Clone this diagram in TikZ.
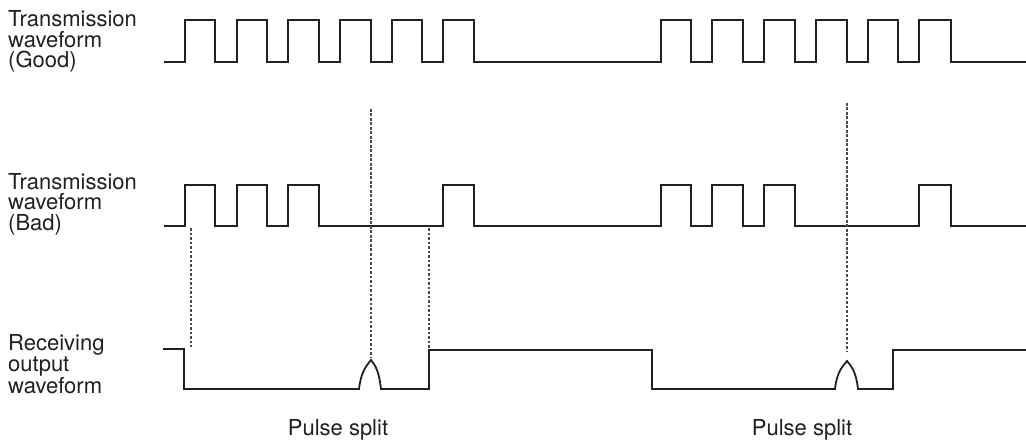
\documentclass[tikz,border=0pt]{standalone}
\usepackage{fontspec}
\setmainfont{TeX Gyre Heros}
\usepackage{tikz}
\usetikzlibrary{positioning,calc}
\definecolor{inkc}{HTML}{231F20}
\definecolor{guidec}{HTML}{4A4A4A}
\tikzset{
  wave/.style={draw=inkc, line width=1.8pt, line join=miter},
  guide/.style={draw=guidec, line width=1.3pt, dash pattern=on 2.8pt off 1.7pt},
  lbl/.style={inner sep=0pt, align=left, text=inkc, font=\fontsize{22}{20.5}\selectfont},
}
\begin{document}
\begin{tikzpicture}[x=1pt, y=-1pt]
  \useasboundingbox (0,0) rectangle (1026,441);
  % signal names
  \node[lbl, anchor=base west] (good) at (8,68) {Transmission\\waveform\\(Good)};
  \node[lbl, anchor=base west] (bad) at (8,230) {Transmission\\waveform\\(Bad)};
  \node[lbl, anchor=base west] (recv) at (8,393) {Receiving\\output\\waveform};
  \node[lbl, anchor=base] (split1) at (338,435) {Pulse split};
  \node[lbl, anchor=base] (split2) at (802,435) {Pulse split};
  % transmitted pulses
  \draw[wave] (164,62) \foreach \a/\b in {185/215,237/267,288/319,340/371,392/422,443/474,661/691,712/743,764/795,816/847,868/898,919/951} { -- (\a,62) -- (\a,20) -- (\b,20) -- (\b,62) } -- (1026,62);
  \draw[wave] (164,226) \foreach \a/\b in {185/215,237/267,288/319,443/474,661/691,712/743,764/795,919/951} { -- (\a,226) -- (\a,185) -- (\b,185) -- (\b,226) } -- (1026,226);
  % received output
  \draw[wave] (163,349) -- (184,349) -- (184,389) -- (359,389)
    .. controls (361,372) and (366,366) .. (371,360)
    .. controls (376,366) and (379,372) .. (381,389)
    -- (429,389) -- (429,350) -- (652,350) -- (652,389) -- (835,389)
    .. controls (837,372) and (842,367) .. (847,361)
    .. controls (852,367) and (856,372) .. (858,389)
    -- (893,389) -- (893,350) -- (1026,350);
  % guides
  \draw[guide] (191,228) -- (191,347);
  \draw[guide] (371,109) -- (371,357);
  \draw[guide] (429,228) -- (429,348);
  \draw[guide] (847,103) -- (847,352);
\end{tikzpicture}
\end{document}
